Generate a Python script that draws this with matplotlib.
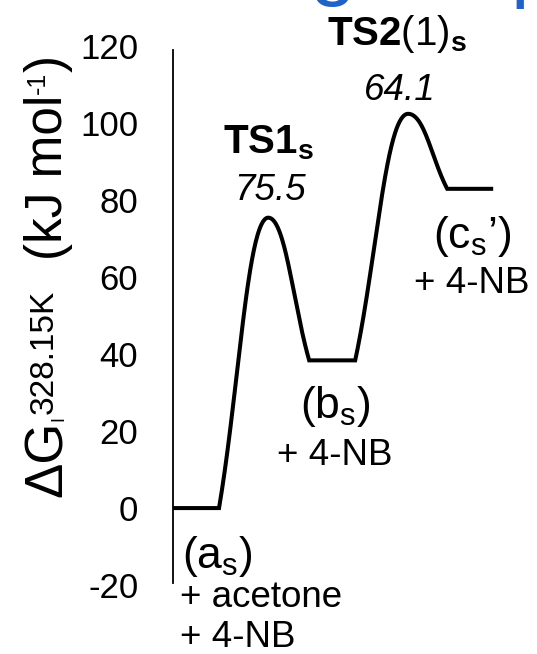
import numpy as np
import matplotlib
matplotlib.use("Agg")
import matplotlib.pyplot as plt

plt.rcParams['font.family'] = ['Liberation Sans', 'DejaVu Sans']
plt.rcParams['mathtext.fontset'] = 'custom'
plt.rcParams['mathtext.rm'] = 'Liberation Sans'
plt.rcParams['mathtext.it'] = 'Liberation Sans:italic'
plt.rcParams['mathtext.bf'] = 'Liberation Sans:bold'

# Free-energy profile (kJ/mol)
plateau_a = (0.0, 1.0)
plateau_b = (2.96, 3.96)
plateau_c = (5.96, 6.96)
ts_x = [2.07, 5.11]
G_a, G_b, G_c = 0.0, 38.4, 83.0
G_ts = [75.5, 102.5]
barrier_labels = ["75.5", "64.1"]
y_ticks = [-20, 0, 20, 40, 60, 80, 100, 120]

W, H = 537, 654
fig = plt.figure(figsize=(W / 100, H / 100), dpi=100)
ax = fig.add_axes([0.3222, 0.1055, 0.6339, 0.8234])
ax.set_xlim(0, 7.4)
ax.set_ylim(-20, 120)


def bezier(p0, p1, p2, p3, n=80):
    t = np.linspace(0, 1, n)[:, None]
    p0, p1, p2, p3 = map(np.asarray, (p0, p1, p2, p3))
    return (1 - t) ** 3 * p0 + 3 * (1 - t) ** 2 * t * p1 + 3 * (1 - t) * t ** 2 * p2 + t ** 3 * p3


def hump(start, peak, end):
    s, p, e = map(np.asarray, (start, peak, end))
    dx1 = p[0] - s[0]
    dx2 = e[0] - p[0]
    up = bezier(s, s + 0.4 * (p - s), (p[0] - 0.42 * dx1, p[1]), p)
    down = bezier(p, (p[0] + 0.42 * dx2, p[1]), e - 0.4 * (e - p), e)
    return np.vstack([up, down[1:]])


pts = [np.array([[plateau_a[0], G_a]])]
pts.append(hump((plateau_a[1], G_a), (ts_x[0], G_ts[0]), (plateau_b[0], G_b)))
pts.append(hump((plateau_b[1], G_b), (ts_x[1], G_ts[1]), (plateau_c[0], G_c)))
pts.append(np.array([[plateau_c[1], G_c]]))
curve = np.vstack(pts)
ax.plot(curve[:, 0], curve[:, 1], color='black', lw=2.9,
        solid_joinstyle='miter', solid_capstyle='butt', clip_on=False)

# axes styling
for side in ('top', 'right', 'bottom'):
    ax.spines[side].set_visible(False)
ax.spines['left'].set_linewidth(1.3)
ax.spines['left'].set_bounds(-19.5, 119)
ax.set_xticks([])
ax.set_yticks(y_ticks)
ax.set_yticklabels([str(v) for v in y_ticks])
ax.tick_params(axis='y', length=0, pad=25, labelsize=25)


# vertical axis title, assembled piece by piece (pixel positions from top-left)
def vtext(px_base, py_start, s, size):
    fig.text(px_base / W, 1 - py_start / H, s, rotation=90, rotation_mode='anchor',
             ha='left', va='baseline', fontsize=size)


vtext(62, 497, "ΔG", 38)
vtext(63, 421, "I", 13)
vtext(53, 414, "328.15K", 24)
vtext(62, 260, "(kJ mol", 37)
vtext(45, 94, "-1", 18)
vtext(62, 72, ")", 37)

# transition-state labels
ax.text(ts_x[0], 92.2, r"$\mathbf{TS1}_{\mathbf{s}}$", ha='center', va='baseline', fontsize=29)
ax.text(2.12, 80.0, barrier_labels[0], ha='center', va='baseline', fontsize=26.5, style='italic')
ax.text(4.88, 120.3, r"$\mathbf{TS2}\mathrm{(1)}_{\mathbf{s}}$", ha='center', va='baseline', fontsize=29)
ax.text(4.93, 106.0, barrier_labels[1], ha='center', va='baseline', fontsize=26.5, style='italic')

# intermediate labels
fs_state, fs_add = 32, 26.5
ax.text(3.52, 23.4, r"(b$_\mathrm{s}$)", ha='center', va='baseline', fontsize=fs_state)
ax.text(3.52, 11.2, "+ 4-NB", ha='center', va='baseline', fontsize=fs_add)
ax.text(6.5, 67.5, r"(c$_\mathrm{s}$’)", ha='center', va='baseline', fontsize=fs_state)
ax.text(6.5, 55.8, "+ 4-NB", ha='center', va='baseline', fontsize=fs_add)
ax.text(0.2, -15.6, r"(a$_\mathrm{s}$)", ha='left', va='baseline', fontsize=fs_state)
ax.text(0.15, -25.7, "+ acetone", ha='left', va='baseline', fontsize=fs_add)
ax.text(0.15, -36.0, "+ 4-NB", ha='left', va='baseline', fontsize=fs_add)

# heading text running off the top edge
blue = '#1F62CA'
fig.text(333 / W, 1 + 10 / H, "g", ha='center', va='baseline', fontsize=60, color=blue)
fig.text(511 / W, 1 + 8 / H, "p", ha='left', va='baseline', fontsize=60, color=blue)

fig.savefig("out.png", dpi=100)
